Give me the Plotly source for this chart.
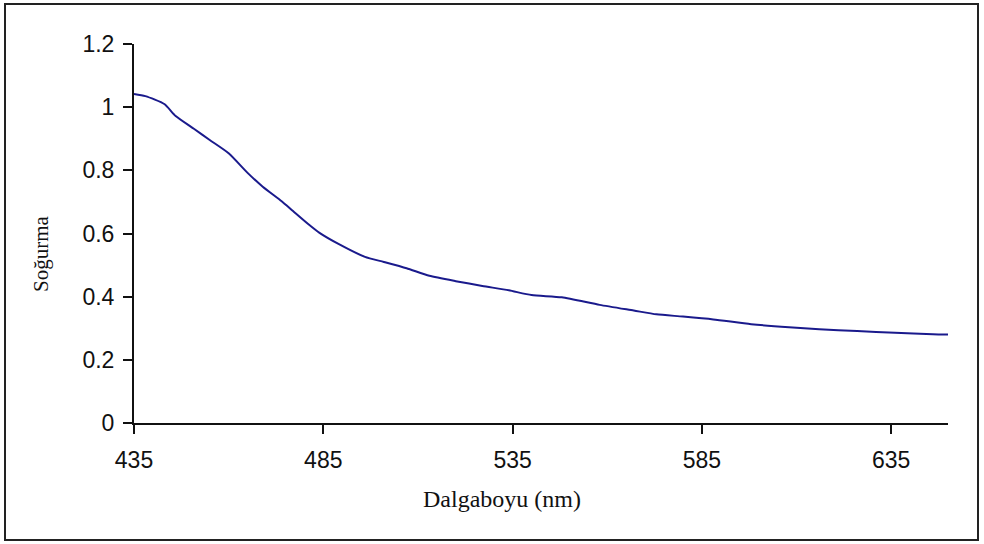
import plotly.graph_objects as go

# Absorption spectrum: wavelength (nm) vs. absorbance
dalgaboyu = [435, 438, 443, 446, 451, 455, 460, 465, 469, 474, 477, 481, 484,
             489, 496, 501, 507, 513, 520, 527, 534, 540, 548, 558, 567, 573,
             580, 588, 598, 608, 616, 626, 636, 646, 650]
sogurma = [1.042, 1.035, 1.010, 0.972, 0.930, 0.896, 0.854, 0.792, 0.748,
           0.702, 0.671, 0.630, 0.602, 0.567, 0.526, 0.510, 0.490, 0.466,
           0.449, 0.434, 0.420, 0.405, 0.398, 0.374, 0.356, 0.344, 0.337,
           0.328, 0.313, 0.303, 0.297, 0.291, 0.286, 0.281, 0.280]

x_ticks = [435, 485, 535, 585, 635]
y_ticks = [0, 0.2, 0.4, 0.6, 0.8, 1, 1.2]

W, H = 984, 544
L, R, T, B = 134, 36, 44, 121
pw, ph = W - L - R, H - T - B


def px(x):
    return (x - L) / pw


def py(y):
    return (H - B - y) / ph


fig = go.Figure()
fig.add_trace(go.Scatter(
    x=dalgaboyu, y=sogurma, mode="lines", line_shape="spline",
    line=dict(color="#1a1a8c", width=2, smoothing=0.6),
    hoverinfo="x+y", showlegend=False,
))

axis_font = dict(family="Liberation Sans, Arial, sans-serif", size=23, color="#111111")

fig.update_xaxes(
    range=[435, 650], tickmode="array", tickvals=x_ticks,
    ticktext=[str(v) for v in x_ticks],
    showline=True, linecolor="#111111", linewidth=2,
    ticks="outside", ticklen=9, tickwidth=1.5, tickcolor="#111111",
    ticklabelstandoff=6,
    showgrid=False, zeroline=False, tickfont=axis_font,
)
fig.update_yaxes(
    range=[0, 1.2], tickmode="array", tickvals=y_ticks,
    ticktext=["0", "0.2", "0.4", "0.6", "0.8", "1", "1.2"],
    showline=True, linecolor="#111111", linewidth=2,
    ticks="outside", ticklen=9, tickwidth=1.5, tickcolor="#111111",
    ticklabelstandoff=4,
    showgrid=False, zeroline=False, tickfont=axis_font,
)

serif = "Liberation Serif, Times New Roman, serif"
fig.add_annotation(
    text="Dalgaboyu (nm)", xref="paper", yref="paper",
    x=px(502), y=py(499), xanchor="center", yanchor="middle",
    showarrow=False, font=dict(family=serif, size=24, color="#111111"),
)
fig.add_annotation(
    text="Soğurma", xref="paper", yref="paper",
    x=px(41), y=py(254), xanchor="center", yanchor="middle", textangle=-90,
    showarrow=False, font=dict(family=serif, size=21, color="#111111"),
)

# chart-area frame
fig.add_shape(
    type="rect", xref="paper", yref="paper",
    x0=px(5), x1=px(978), y0=py(540), y1=py(4),
    line=dict(color="#222222", width=2), fillcolor="rgba(0,0,0,0)", layer="below",
)

fig.update_layout(
    width=W, height=H, margin=dict(l=L, r=R, t=T, b=B),
    paper_bgcolor="white", plot_bgcolor="white",
)

fig.write_html("out.html")
